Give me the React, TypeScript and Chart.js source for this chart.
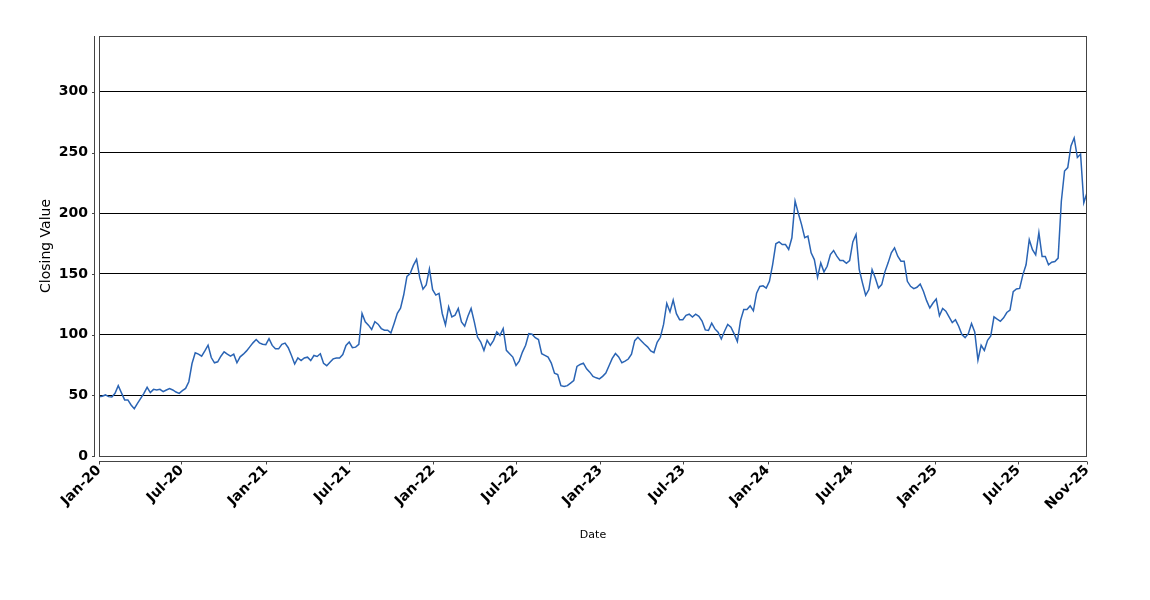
import React, { useEffect, useRef } from "react";
import { Chart, registerables } from "chart.js";

Chart.register(...registerables);

// Weekly closing values (Fridays), starting 2020-01-03
const firstClose = "2020-01-03";

const close2020 = [
  48.9, 49.2, 50.3, 48.9, 48.6, 51.6, 58, 52, 46.2, 46.2,
  42, 39, 43.4, 47.5, 51.6, 56.6, 52.2, 54.9, 54.4, 54.9,
  53, 54.4, 55.5, 54.4, 52.7, 51.6, 53.8, 55.7, 61.2, 76.2,
  85, 83.9, 82.2, 86.6, 91.3, 81.1, 76.8, 77.6, 82.2, 85.8,
  83.9, 82.2, 83.9, 76.8, 81.7, 83.9, 86.6, 89.9, 93.2, 95.9,
  93.2, 92.1,
];

const close2021 = [
  91.7, 96.7, 91.1, 88.3, 88.3, 92, 93, 89.2, 82.8, 75.8,
  80.8, 78.6, 80.8, 81.4, 78.6, 82.8, 82, 84.2, 76.4, 74.4,
  77.2, 80, 80.8, 80.8, 83.6, 91.1, 93.9, 89.2, 89.7, 92,
  117.5, 110.6, 107.8, 104.2, 110.6, 108.6, 105, 103.6, 103.6, 101.4,
  109.2, 117.5, 121.7, 132.8, 148, 150.3, 157, 162, 146.7, 137.5,
  141, 154, 137,
];

const close2022 = [
  132.6, 134, 117.4, 108, 122.9, 114.6, 116, 121.5, 110.5, 106.9,
  115.2, 121.5, 110.5, 98, 93.9, 87, 95.3, 91.2, 95.3, 102.2,
  99.4, 105, 87, 84.3, 81.5, 74.6, 78.2, 85.6, 91.2, 100.8,
  100.3, 97.5, 95.9, 84.3, 82.9, 81.5, 76.5, 68.2, 67.1, 58,
  57.2, 58, 60, 62.2, 73.8, 75.4, 76.5, 71.8, 69.1, 65.5,
  64.4, 63.5,
];

const close2023 = [
  65.6, 68.4, 74.3, 80.4, 84.4, 81.6, 76.8, 78.2, 79.9, 83.8,
  95, 97.8, 95, 92.2, 89.9, 86.6, 85.2, 93.6, 97.8, 108.4,
  125.7, 118.7, 128.5, 117.3, 112.3, 112.3, 115.9, 116.8, 114.5, 116.8,
  115.1, 111.2, 103.9, 103.4, 109.5, 104.7, 102, 96.4, 102.8, 108.4,
  106.1, 100.6, 94.4, 111.7, 120.7, 120.7, 123.7, 119.6, 134.1, 139.7,
  140.2, 138.3,
];

const close2024 = [
  143.9, 157.7, 174.8, 176.4, 174.2, 174.2, 170.1, 179.8, 210, 200,
  190.8, 179.8, 181.1, 167.4, 161.8, 147.2, 159.1, 151.7, 156.3, 166,
  169.3, 164.6, 161, 161, 158.8, 161, 176.4, 182.5, 153.6, 142.6,
  132.4, 137.1, 153.6, 146.7, 138.4, 141.2, 151.7, 159.1, 167.4, 171.5,
  164.6, 160.5, 160.5, 143.9, 139.8, 137.9, 139, 141.7, 135.7, 128,
  121.9, 126,
];

const close2025 = [
  129.3, 115.5, 121.5, 119.3, 114.6, 109.9, 112.2, 106.9, 100, 97.5,
  100.8, 109.1, 102.2, 79, 91.2, 87, 95.3, 98.9, 114.6, 112.7,
  111, 113.8, 118.2, 120.2, 135.4, 137.6, 138.1, 149.2, 157.5, 178.2,
  169.9, 165.7, 184, 164.4, 164.4, 157.5, 159.7, 160.2, 163, 209.9,
  234.8, 237.6, 255.5, 262, 245.9, 248.6, 208.6, 216.9,
];

// Intermediate date ticks (first and last tick are the data bounds)
const midTickDates = [
  "2020-07-01", "2021-01-01", "2021-07-01", "2022-01-01", "2022-07-01",
  "2023-01-01", "2023-07-01", "2024-01-01", "2024-07-01", "2025-01-01",
  "2025-07-01",
];

const yTickValues = [0, 50, 100, 150, 200, 250, 300];
const yMax = 346;

const MONTHS = ["Jan", "Feb", "Mar", "Apr", "May", "Jun", "Jul", "Aug", "Sep", "Oct", "Nov", "Dec"];
const EPOCH = Date.UTC(2020, 0, 1);
const DAY = 86400000;

function dayOf(iso: string): number {
  return Math.round((Date.parse(iso + "T00:00:00Z") - EPOCH) / DAY);
}
function fmtDay(d: number): string {
  const dt = new Date(EPOCH + Math.round(d) * DAY);
  return MONTHS[dt.getUTCMonth()] + "-" + String(dt.getUTCFullYear() % 100).padStart(2, "0");
}

const FONT = "'DejaVu Sans', 'Liberation Sans', sans-serif";

const framePlugin = {
  id: "frame",
  afterDatasetsDraw(chart: any) {
    const { ctx, chartArea } = chart;
    const { left, right, top, bottom } = chartArea;
    const L = Math.round(left), R = Math.round(right), T = Math.round(top), B = Math.round(bottom);
    ctx.save();
    ctx.lineWidth = 1;
    ctx.strokeStyle = "#444";
    // plot box
    ctx.strokeRect(L + 0.5, T + 0.5, R - L - 1, B - T);
    // offset y axis
    const ax = L - 4.5;
    ctx.beginPath();
    ctx.moveTo(ax, T);
    ctx.lineTo(ax, B + 1);
    for (const t of chart.scales.y.ticks) {
      const py = Math.round(chart.scales.y.getPixelForValue(t.value)) + 0.5;
      ctx.moveTo(ax - 2.5, py);
      ctx.lineTo(ax, py);
    }
    ctx.stroke();
    // offset x axis
    const ay = B + 5.5;
    ctx.beginPath();
    ctx.moveTo(L, ay);
    ctx.lineTo(R, ay);
    for (const t of chart.scales.x.ticks) {
      const px = Math.round(chart.scales.x.getPixelForValue(t.value)) + 0.5;
      ctx.moveTo(px, ay);
      ctx.lineTo(px, ay + 3);
    }
    ctx.stroke();
    ctx.restore();
  },
};

export default function App() {
  const ref = useRef<HTMLCanvasElement | null>(null);

  useEffect(() => {
    if (!ref.current) return;
    const all = [...close2020, ...close2021, ...close2022, ...close2023, ...close2024, ...close2025];
    const d0 = dayOf(firstClose);
    const points = all.map((v, i) => ({ x: d0 + 7 * i, y: v }));
    const xMin = points[0].x;
    const xMax = points[points.length - 1].x;
    const xTicks = [xMin, ...midTickDates.map(dayOf), xMax];

    const chart = new Chart(ref.current, {
      type: "line",
      data: {
        datasets: [
          {
            label: "Closing Value",
            data: points,
            borderColor: "#2a64b4",
            borderWidth: 1.5,
            pointRadius: 0,
            tension: 0,
            fill: false,
          },
        ],
      },
      options: {
        animation: false,
        responsive: false,
        devicePixelRatio: 1,
        layout: { padding: { left: 0, top: 36, right: 63, bottom: 0 } },
        plugins: {
          legend: { display: false },
          tooltip: { enabled: false },
        },
        scales: {
          x: {
            type: "linear",
            min: xMin,
            max: xMax,
            afterBuildTicks: (scale: any) => {
              scale.ticks = xTicks.map((v) => ({ value: v }));
            },
            afterFit: (scale: any) => {
              scale.height = 144;
            },
            grid: { display: false, drawTicks: false },
            border: { display: false },
            ticks: {
              autoSkip: false,
              minRotation: 45,
              maxRotation: 45,
              padding: 6,
              color: "#000",
              font: { family: FONT, size: 14, weight: "bold" },
              callback: (v: any) => fmtDay(Number(v)),
            },
            title: {
              display: true,
              text: "Date",
              color: "#000",
              font: { family: FONT, size: 11 },
              padding: { top: 0, bottom: 58 },
            },
          },
          y: {
            type: "linear",
            min: 0,
            max: yMax,
            afterBuildTicks: (scale: any) => {
              scale.ticks = yTickValues.map((v) => ({ value: v }));
            },
            afterFit: (scale: any) => {
              scale.width = 99;
            },
            grid: {
              drawTicks: false,
              color: (c: any) => (c.tick && c.tick.value === 0 ? "rgba(0,0,0,0)" : "#000"),
              lineWidth: 1,
            },
            border: { display: false },
            ticks: {
              padding: 11,
              color: "#000",
              font: { family: FONT, size: 14, weight: "bold" },
            },
            title: {
              display: true,
              text: "Closing Value",
              color: "#000",
              font: { family: FONT, size: 14 },
              padding: { top: 38, bottom: 0 },
            },
          },
        },
      },
      plugins: [framePlugin],
    });
    return () => chart.destroy();
  }, []);

  return (
    <div style={{ position: "absolute", left: 0, top: 0, width: 1150, height: 600, background: "#fff" }}>
      <canvas ref={ref} width={1150} height={600} style={{ display: "block" }} />
    </div>
  );
}
